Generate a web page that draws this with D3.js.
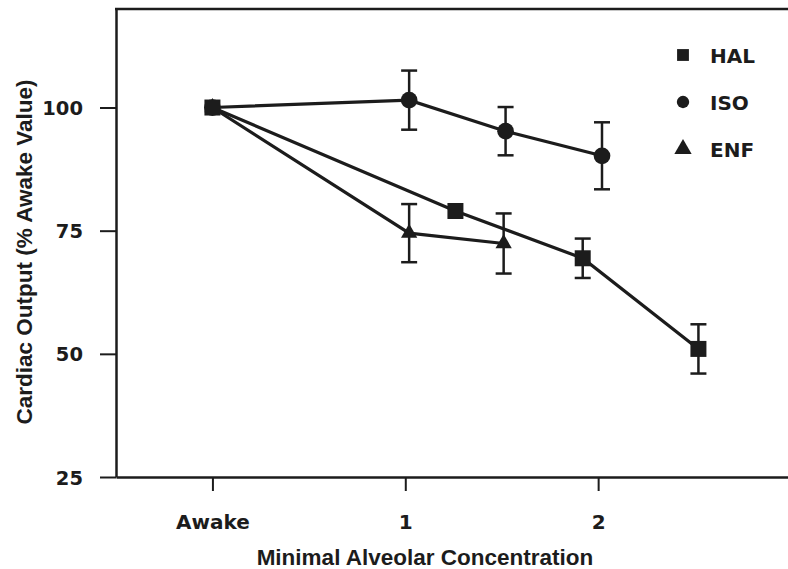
<!DOCTYPE html>
<meta charset="utf-8">
<script src="https://d3js.org/d3.v7.min.js"></script>
<style>
  body { margin: 0; background: #fff; }
  .tick text { font-family: "DejaVu Sans", sans-serif; font-weight: bold; }
</style>
<div id="my_dataviz"></div>
<script>

// MAC levels (Awake = 0) with mean and SE
var halMac = [0, 1.26, 1.92, 2.52];
var halVal = [100, 79, 69.4, 51];
var halErr = [0, 0, 4, 5];

var isoMac = [0, 1.02, 1.52, 2.02];
var isoVal = [100, 101.5, 95.2, 90.2];
var isoErr = [0, 6, 4.9, 6.8];

var enfMac = [0, 1.02, 1.51];
var enfVal = [100, 74.5, 72.4];
var enfErr = [0, 5.9, 6.1];

var yTicks = [25, 50, 75, 100];
var xTicks = [0, 1, 2];
var xTickLabels = ["Awake", "1", "2"];
var seriesNames = ["HAL", "ISO", "ENF"];

var W = 788, H = 569;
var ink = "#1c1c1c";

var svg = d3.select("#my_dataviz")
  .append("svg")
    .attr("width", W)
    .attr("height", H);

var x = d3.scaleLinear()
  .domain([-0.5, 3])
  .range([116, 791]);

var y = d3.scaleLinear()
  .domain([25, 120])
  .range([477, 9]);

// Y axis
var yAxis = svg.append("g")
  .attr("transform", "translate(116,0)")
  .call(d3.axisLeft(y).tickValues(yTicks).tickSize(16).tickSizeOuter(0).tickPadding(17));
yAxis.select(".domain").attr("stroke", ink).attr("stroke-width", 2.5);
yAxis.selectAll(".tick line").attr("stroke", ink).attr("stroke-width", 2);
yAxis.selectAll(".tick text").attr("font-size", 19.5).attr("fill", ink).attr("dy", "0.36em");

// X axis
var xAxis = svg.append("g")
  .attr("transform", "translate(0,477)")
  .call(d3.axisBottom(x).tickValues(xTicks)
    .tickFormat(function(d, i) { return xTickLabels[i]; })
    .tickSize(14).tickSizeOuter(0).tickPadding(24));
xAxis.select(".domain").attr("stroke", ink).attr("stroke-width", 2.5);
xAxis.selectAll(".tick line").attr("stroke", ink).attr("stroke-width", 2);
xAxis.selectAll(".tick text").attr("font-size", 20).attr("fill", ink);

// top frame line
svg.append("line")
  .attr("x1", 115).attr("x2", W)
  .attr("y1", y(120)).attr("y2", y(120))
  .attr("stroke", ink).attr("stroke-width", 2.5);

// axis titles
svg.append("text")
  .attr("x", 425).attr("y", 565)
  .attr("text-anchor", "middle")
  .attr("font-family", "'Liberation Sans', Arial, sans-serif")
  .attr("font-weight", "bold").attr("font-size", 22.5)
  .attr("fill", ink)
  .text("Minimal Alveolar Concentration");

svg.append("text")
  .attr("transform", "translate(32,252) rotate(-90)")
  .attr("text-anchor", "middle")
  .attr("font-family", "'Liberation Sans', Arial, sans-serif")
  .attr("font-weight", "bold").attr("font-size", 22.5)
  .attr("fill", ink)
  .text("Cardiac Output (% Awake Value)");

function makeSeries(mac, val, err) {
  return mac.map(function(m, i) { return {x: m, y: val[i], e: err[i]}; });
}
var series = [
  {name: "HAL", pts: makeSeries(halMac, halVal, halErr), shape: d3.symbolSquare, size: 256},
  {name: "ISO", pts: makeSeries(isoMac, isoVal, isoErr), shape: d3.symbolCircle, size: 220},
  {name: "ENF", pts: makeSeries(enfMac, enfVal, enfErr), shape: d3.symbolTriangle, size: 115}
];

var line = d3.line()
  .x(function(d) { return x(d.x); })
  .y(function(d) { return y(d.y); });

series.forEach(function(s) {
  svg.append("path")
    .datum(s.pts)
    .attr("d", line)
    .attr("fill", "none")
    .attr("stroke", ink)
    .attr("stroke-width", 3.2);

  var bars = svg.append("g").selectAll("g")
    .data(s.pts.filter(function(d) { return d.e > 0; }))
    .enter().append("g");
  bars.append("line")
    .attr("x1", function(d) { return x(d.x); })
    .attr("x2", function(d) { return x(d.x); })
    .attr("y1", function(d) { return y(d.y + d.e); })
    .attr("y2", function(d) { return y(d.y - d.e); })
    .attr("stroke", ink).attr("stroke-width", 2.5);
  [1, -1].forEach(function(sg) {
    bars.append("line")
      .attr("x1", function(d) { return x(d.x) - 8; })
      .attr("x2", function(d) { return x(d.x) + 8; })
      .attr("y1", function(d) { return y(d.y + sg * d.e); })
      .attr("y2", function(d) { return y(d.y + sg * d.e); })
      .attr("stroke", ink).attr("stroke-width", 2.5);
  });
});

// markers: draw HAL last so the shared Awake point shows a square
series.slice().reverse().forEach(function(s) {
  svg.append("g").selectAll("path")
    .data(s.pts)
    .enter().append("path")
      .attr("transform", function(d) { return "translate(" + x(d.x) + "," + y(d.y) + ")"; })
      .attr("d", d3.symbol().type(s.shape).size(s.size))
      .attr("fill", ink);
});

// legend
var legend = svg.append("g").selectAll("g")
  .data(series)
  .enter().append("g")
    .attr("transform", function(d, i) { return "translate(683," + (55 + i * 47) + ")"; });
legend.append("path")
  .attr("d", function(d) {
    var sz = d.name == "HAL" ? 140 : (d.name == "ISO" ? 120 : 130);
    return d3.symbol().type(d.shape).size(sz)();
  })
  .attr("fill", ink);
legend.append("text")
  .attr("x", 27).attr("y", 7.5)
  .attr("font-family", "'DejaVu Sans', sans-serif")
  .attr("font-weight", "bold").attr("font-size", 20)
  .attr("fill", ink)
  .text(function(d) { return d.name; });

</script>
